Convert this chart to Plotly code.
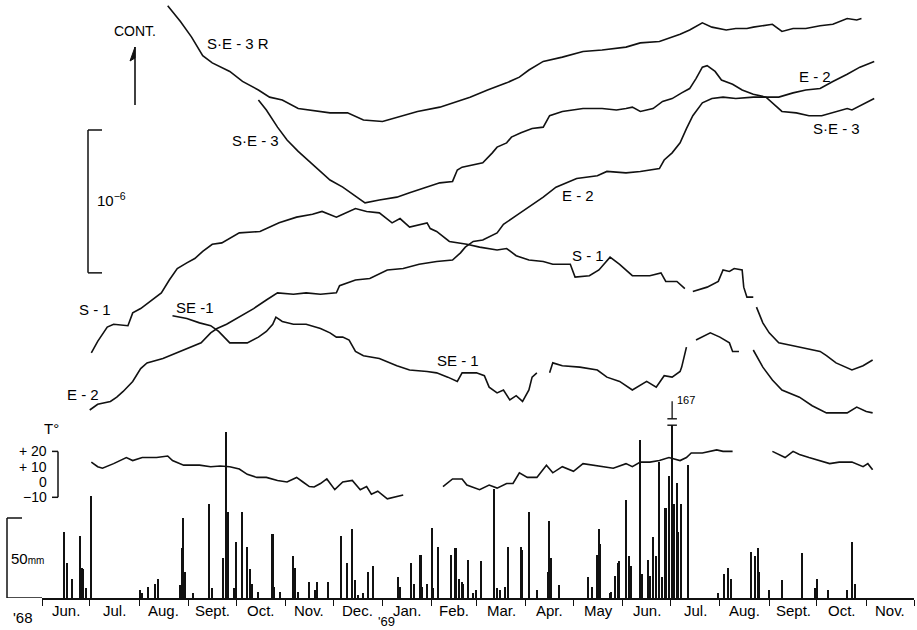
import pandas as pd
import plotly.graph_objects as go

START = pd.Timestamp("1968-06-01")
END = pd.Timestamp("1969-12-01")

# ---------------- data (days counted from 1 June 1968) ----------------
# strain records, units of 1e-8 (relative, arbitrary offsets)
se3r_day = [79, 87, 94, 101, 107, 118, 126, 136, 143, 151, 161, 181, 192, 202, 214, 223, 236, 250, 261, 269,
            280, 292, 300, 306, 315, 327, 340, 352, 367, 376, 388, 401, 407, 415, 421, 430, 436, 443, 447, 459,
            465, 472, 480, 489, 497, 506, 512, 515]
se3r_val = [297, 286, 275, 262, 257, 251, 244, 238, 233, 231, 225, 222, 222, 217, 216, 219, 223, 226, 230, 233,
            238, 243, 247, 252, 258, 261, 265, 266, 268, 271, 272, 277, 280, 285, 282, 280, 281, 281, 282, 284,
            279, 281, 281, 283, 284, 288, 287, 288]

se3_day = [136, 141, 148, 154, 161, 181, 189, 198, 203, 212, 223, 231, 239, 250, 258, 261, 264, 277, 283, 286,
           292, 295, 301, 308, 315, 319, 327, 340, 352, 361, 367, 371, 376, 384, 390, 396, 402, 407, 411, 415,
           418, 423, 427, 434, 440, 447, 455, 462, 465, 474, 482, 490, 497, 506, 509, 516, 523]
se3_val = [231, 224, 212, 203, 195, 175, 170, 163, 159, 161, 163, 166, 169, 173, 174, 182, 184, 187, 194, 198,
           201, 205, 208, 211, 212, 220, 223, 225, 225, 224, 225, 226, 223, 225, 230, 232, 236, 239, 246, 254,
           255, 251, 245, 242, 238, 235, 233, 226, 223, 222, 220, 220, 222, 225, 224, 228, 232]

e2_day = [30, 35, 43, 47, 51, 57, 62, 66, 76, 87, 93, 100, 106, 110, 116, 124, 133, 141, 148, 158,
          166, 175, 185, 187, 197, 206, 217, 227, 237, 248, 258, 263, 266, 271, 277, 286, 290, 298, 306, 315,
          323, 336, 349, 355, 367, 376, 388, 391, 396, 401, 405, 409, 415, 421, 428, 436, 447, 455, 463, 472,
          480, 489, 497, 506, 514, 523]
e2_val = [14, 18, 20, 23, 27, 34, 43, 47, 50, 55, 58, 61, 68, 71, 74, 79, 85, 91, 96, 95,
          96, 95, 96, 101, 105, 106, 112, 113, 116, 118, 119, 124, 128, 132, 133, 138, 144, 150, 156, 163,
          170, 176, 178, 181, 180, 181, 183, 189, 194, 201, 211, 220, 229, 232, 233, 232, 233, 233, 233, 236,
          238, 239, 244, 249, 254, 258]

s1_day = [31, 35, 41, 45, 54, 57, 62, 70, 75, 80, 85, 91, 96, 101, 107, 113, 118, 124, 137, 149,
          160, 170, 176, 185, 187, 197, 204, 212, 220, 225, 231, 242, 244, 248, 256, 267, 275, 286, 292, 298,
          306, 315, 321, 332, 335, 344, 350, 357, 363, 371, 382, 389, 392, 399, 404, 406, 409, 418, 425, 428,
          432, 435, 440, 441, 443, 447, 448, 449, 453, 457, 463, 472, 480, 489, 493, 499, 509, 516, 522]
s1_val = [54, 62, 72, 74, 73, 82, 85, 92, 96, 105, 113, 117, 120, 125, 130, 131, 134, 138, 139, 145,
          149, 151, 153, 149, 150, 155, 153, 152, 145, 148, 142, 145, 141, 139, 132, 130, 128, 126, 127, 122,
          119, 118, 116, 116, 107, 108, 112, 121, 116, 108, 108, 110, 104, 104, 99, None, 97, 100, 104, 112,
          111, 113, 112, 100, 93, 93, None, 86, 75, 68, 61, 59, 57, 55, 52, 47, 42, 45, 49]

se1_day = [82, 91, 99, 106, 111, 118, 129, 136, 141, 145, 147, 151, 158, 166, 175, 181, 185, 189, 193, 197,
           202, 212, 223, 231, 242, 248, 255, 261, 264, 273, 278, 281, 286, 290, 294, 298, 302, 306, 308, 311,
           315, 319, 321, 327, 338, 349, 355, 363, 371, 380, 386, 391, 396, 401, 402, 405, 408, 411, 420, 426,
           432, 434, 438, 442, 447, 453, 459, 465, 476, 484, 493, 506, 512, 518, 522]
se1_val = [80, 78, 75, 73, 69, 61, 61, 65, 69, 74, 79, 76, 74, 74, 71, 68, 65, 65, 63, 55,
           52, 50, 45, 42, 41, 40, 37, 34, 40, 40, 38, 30, 26, 28, 21, 24, 20, 28, 37, 40,
           None, 40, 47, 45, 44, 42, 37, 34, 28, 34, 30, 38, 37, 41, 44, 58, None, 63, 68, 65,
           61, 55, 55, None, 56, 44, 35, 28, 23, 17, 12, 12, 16, 13, 12]

# air temperature, deg C
temp_day = [31, 35, 38, 45, 53, 57, 63, 72, 79, 82, 89, 99, 106, 112, 118, 124, 129, 135, 141, 148,
            154, 160, 164, 168, 171, 175, 179, 184, 189, 195, 200, 204, 207, 211, 217, 222, 227, 240, 252, 258,
            264, 267, 275, 281, 286, 292, 296, 300, 305, 311, 317, 321, 327, 334, 340, 346, 352, 359, 367, 371,
            376, 382, 388, 394, 401, 405, 408, 415, 424, 428, 434, 446, 459, 467, 472, 476, 482, 489, 495, 501,
            509, 516, 519, 522]
temp_val = [13, 10, 9, 12, 16, 14, 16, 16, 17, 14, 11, 11, 10, 10.5, 10, 8.5, 5, 3, 3, 1,
            0, 3, 0, -3, -3.3, -1, 2, -5, 0, 1, -5, -3, -8, -6, -11, -10, -8.5, None, -3, 2,
            2, -2, -5, -2, -4, -1, -1, 6, 3, 3, 11, 6, 10, 7, 12, 11, 10, 9, 12, 10,
            13, 13, 14, 16, 14, 16, 19, 19, 21, 20, 20, None, 20, 16, 20, 18, 16, 14, 12, 13,
            13, 10, 12, 8]

# daily precipitation, mm
rain_day = [14, 16, 19, 24, 25, 26, 28, 31, 62, 63, 67, 71, 73, 87, 88, 89, 90, 95,
            105, 107, 114, 116, 117, 121, 122, 126, 129, 131, 132, 136,
            145, 146, 150, 158, 159, 161, 168, 172, 173, 180,
            188, 192, 195, 197, 199, 202, 205, 208,
            224, 225, 232, 234, 238, 239, 242, 245, 246, 249,
            257, 260, 262, 264, 265, 268, 271, 273, 276,
            284, 286, 288, 291, 293, 301, 302, 306, 311, 318, 319, 320, 325,
            343, 346, 349, 350, 351, 357, 358, 360, 362, 363, 367, 369, 370,
            376, 377, 381, 382, 384, 386, 388, 390, 392, 394, 396, 397, 399, 400, 402, 406,
            425, 429, 431, 433, 446, 448, 450, 451, 457, 465, 478, 486, 487, 494, 506, 509, 511]
rain_mm = [41, 22, 12, 39, 19, 18, 6, 64, 5, 3, 7, 9, 12, 8, 31, 50, 16, 3,
           59, 6, 25, 104, 54, 6, 35, 54, 32, 18, 9, 4,
           40, 7, 4, 26, 19, 4, 10, 5, 10, 10,
           39, 22, 43, 11, 2, 3, 16, 20,
           13, 7, 22, 9, 27, 7, 9, 44, 6, 32,
           27, 31, 12, 10, 9, 24, 3, 5, 23,
           68, 6, 5, 7, 32, 32, 30, 54, 5, 16, 48, 25, 8,
           13, 7, 27, 43, 34, 3, 4, 14, 22, 23, 61, 26, 20,
           99, 15, 24, 14, 38, 26, 85, 13, 56, 76, 167, 59, 72, 41, 59, 83,
           3, 15, 19, 12, 29, 26, 31, 16, 5, 11, 28, 6, 12, 5, 5, 35, 9]

month_labels = ["Jun.", "Jul.", "Aug.", "Sept.", "Oct.", "Nov.", "Dec.", "Jan.", "Feb.", "Mar.",
                "Apr.", "May", "Jun.", "Jul.", "Aug.", "Sept.", "Oct.", "Nov."]
temp_ticks = [20, 10, 0, -10]
temp_tick_text = ["+ 20", "+ 10", "0", "\u221210"]
strain_scale = 100      # 1e-6 in units of 1e-8
rain_scale = 50         # mm
rain_cap = 108          # display cap for the off-scale day

# ---------------- helpers ----------------
def dates(days):
    return [START + pd.Timedelta(days=d) for d in days]

W, H = 917, 630
L, R, T, B = 42, 3, 0, 32
PW, PH = W - L - R, H - T - B

def fx(x):
    return (x - L) / PW

def fy(y):
    return 1 - (y - T) / PH

FONT = "Liberation Sans, Arial, sans-serif"
BLACK = "#111111"

fig = go.Figure()

# precipitation bars
shown = [min(v, rain_cap) for v in rain_mm]
fig.add_trace(go.Bar(x=dates(rain_day), y=shown, yaxis="y3", width=86400000 * 1.0,
                     marker=dict(color=BLACK, line=dict(width=0)), showlegend=False))

# temperature
fig.add_trace(go.Scatter(x=dates(temp_day), y=temp_val, yaxis="y2", mode="lines",
                         line=dict(color=BLACK, width=1.6), connectgaps=False, showlegend=False))

# strain curves
for d, v in [(se3r_day, se3r_val), (se3_day, se3_val), (e2_day, e2_val), (s1_day, s1_val), (se1_day, se1_val)]:
    fig.add_trace(go.Scatter(x=dates(d), y=v, yaxis="y", mode="lines",
                             line=dict(color=BLACK, width=1.6), connectgaps=False, showlegend=False))

month_starts = pd.date_range(START, END, freq="MS")
mids = [month_starts[i] + (month_starts[i + 1] - month_starts[i]) / 2 for i in range(len(month_starts) - 1)]

strain_range = [(430 - (T + PH)) * 0.7, (430 - T) * 0.7]
temp_range = [(482 - (T + PH)) / 1.53, (482 - T) / 1.53]
rain_range = [0, PH / 1.6]

fig.update_layout(
    width=W, height=H,
    margin=dict(l=L, r=R, t=T, b=B),
    paper_bgcolor="white", plot_bgcolor="white",
    font=dict(family=FONT, size=15, color=BLACK),
    bargap=0,
    xaxis=dict(type="date", range=[START, END], showgrid=False, zeroline=False,
               showline=True, linecolor=BLACK, linewidth=1.6,
               tickmode="array", tickvals=list(month_starts), ticks="outside", ticklen=6,
               tickwidth=1.3, tickcolor=BLACK, showticklabels=False),
    yaxis=dict(range=strain_range, visible=False, showgrid=False),
    yaxis2=dict(range=temp_range, visible=False, overlaying="y", showgrid=False),
    yaxis3=dict(range=rain_range, visible=False, overlaying="y", showgrid=False),
)

shapes = []
ann = []

def text(t, x, y, size=15, xanchor="center", yanchor="middle"):
    ann.append(dict(text=t, x=fx(x), y=fy(y), xref="paper", yref="paper",
                    showarrow=False, xanchor=xanchor, yanchor=yanchor,
                    font=dict(size=size, family=FONT, color="#000000")))

# month labels under the time axis
for m, lab in zip(mids, month_labels):
    ann.append(dict(text=lab, x=m, y=fy(610), xref="x", yref="paper", showarrow=False,
                    xanchor="center", yanchor="middle", font=dict(size=15, family=FONT, color="#000000")))

# strain scale bar (1e-6)
s_top = (430 - 130) * 0.7
s_bot = s_top - strain_scale
shapes.append(dict(type="line", xref="paper", yref="y", x0=fx(88), x1=fx(88), y0=s_bot, y1=s_top,
                   line=dict(color=BLACK, width=1.5)))
for yv in (s_bot, s_top):
    shapes.append(dict(type="line", xref="paper", yref="y", x0=fx(88), x1=fx(102), y0=yv, y1=yv,
                       line=dict(color=BLACK, width=1.5)))
text("10<sup>\u22126</sup>", 95, 199, size=15, xanchor="left")

# CONT. arrow (half arrow head)
text("CONT.", 135, 31, size=14)
shapes.append(dict(type="line", xref="paper", yref="paper", x0=fx(135), x1=fx(135), y0=fy(105), y1=fy(47),
                   line=dict(color=BLACK, width=1.6)))
shapes.append(dict(type="path", xref="paper", yref="paper",
                   path=f"M {fx(135)} {fy(47)} L {fx(130)} {fy(61)} L {fx(135)} {fy(58)} Z",
                   fillcolor=BLACK, line=dict(color=BLACK, width=1)))

# temperature scale
shapes.append(dict(type="line", xref="paper", yref="y2", x0=fx(58), x1=fx(58), y0=-10, y1=20,
                   line=dict(color=BLACK, width=1.5)))
for yv in (-10, 20):
    shapes.append(dict(type="line", xref="paper", yref="y2", x0=fx(52), x1=fx(58), y0=yv, y1=yv,
                       line=dict(color=BLACK, width=1.5)))
for tv, tt in zip(temp_ticks, temp_tick_text):
    ann.append(dict(text=tt, x=fx(49), y=tv, xref="paper", yref="y2", showarrow=False,
                    xanchor="right", yanchor="middle", font=dict(size=14, family=FONT, color="#000000")))
text("T\u00b0", 51, 428, size=15)

# precipitation scale
shapes.append(dict(type="line", xref="paper", yref="y3", x0=fx(7), x1=fx(7), y0=0, y1=rain_scale,
                   line=dict(color=BLACK, width=1.5)))
shapes.append(dict(type="line", xref="paper", yref="y3", x0=fx(7), x1=fx(22), y0=rain_scale, y1=rain_scale,
                   line=dict(color=BLACK, width=1.5)))
shapes.append(dict(type="line", xref="paper", yref="y3", x0=fx(7), x1=fx(42), y0=0, y1=0,
                   line=dict(color=BLACK, width=1.6)))
ann.append(dict(text="50<span style='font-size:10px'>mm</span>", x=fx(9), y=rain_scale / 2,
                xref="paper", yref="y3", showarrow=False, xanchor="left", yanchor="middle",
                font=dict(size=15, family=FONT, color="#000000")))

# off-scale rain day marker (167 mm)
big = rain_day[rain_mm.index(max(rain_mm))]
bx = START + pd.Timedelta(days=big)
dx = pd.Timedelta(days=3)
top_mark = rain_cap + 4
shapes.append(dict(type="line", xref="x", yref="y3", x0=bx - dx, x1=bx + dx, y0=rain_cap, y1=rain_cap,
                   line=dict(color=BLACK, width=1.4)))
shapes.append(dict(type="line", xref="x", yref="y3", x0=bx - dx, x1=bx + dx, y0=top_mark, y1=top_mark,
                   line=dict(color=BLACK, width=1.4)))
shapes.append(dict(type="line", xref="x", yref="y3", x0=bx, x1=bx, y0=top_mark, y1=top_mark + 11,
                   line=dict(color=BLACK, width=1.3)))
dd = pd.Timedelta(days=1.6)
shapes.append(dict(type="path", xref="x", yref="y3",
                   path=f"M {bx:%Y-%m-%d %H:%M:%S} {top_mark} L {(bx - dd):%Y-%m-%d %H:%M:%S} {top_mark + 4} "
                        f"L {(bx + dd):%Y-%m-%d %H:%M:%S} {top_mark + 4} Z",
                   fillcolor=BLACK, line=dict(color=BLACK, width=1)))
ann.append(dict(text=str(max(rain_mm)), x=bx + pd.Timedelta(days=2), y=top_mark + 12, xref="x", yref="y3",
                showarrow=False, xanchor="left", yanchor="middle",
                font=dict(size=11, family=FONT, color="#000000")))

# curve labels
for t, x, y in [("S\u00b7E - 3 R", 238, 44), ("S\u00b7E - 3", 255, 140), ("E - 2", 578, 195),
                ("S - 1", 588, 255), ("SE - 1", 458, 360), ("S - 1", 95, 309), ("SE -1", 195, 307),
                ("E - 2", 83, 394), ("E - 2", 815, 76), ("S\u00b7E - 3", 836, 129)]:
    text(t, x, y, size=15)

# year marks
text("'68", 23, 617, size=15)
text("'69", 386, 621, size=13)

fig.update_layout(shapes=shapes, annotations=ann)
fig.write_html("out.html", config={"displayModeBar": False},
               post_script="document.body.style.margin='0px';document.body.style.overflow='hidden';")
